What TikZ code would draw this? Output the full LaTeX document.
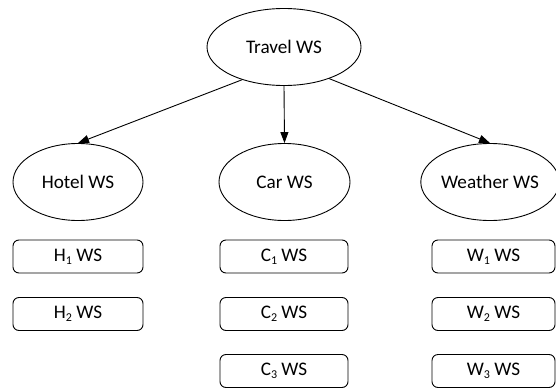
\documentclass[tikz,border=0pt]{standalone}
\usepackage{fontspec}
\setmainfont{Carlito}
\usetikzlibrary{shapes.geometric,arrows.meta}
\newcommand{\wsub}[1]{\raisebox{-0.15em}{\fontsize{12}{12}\selectfont #1}}
\begin{document}
\begin{tikzpicture}[x=1pt,y=-1pt,
  every node/.style={font=\fontsize{19.2}{21}\selectfont, text=black},
  wsell/.style={draw, ellipse, line width=0.9pt, inner sep=0pt, minimum height=77pt},
  wsbox/.style={draw, rounded corners=6pt, line width=0.9pt, inner sep=0pt, minimum height=33pt},
  conn/.style={line width=0.9pt, -{Triangle[length=11pt,width=8pt]}}]
\useasboundingbox (0,0) rectangle (556,388);
\node[wsell, minimum width=154pt] (travel) at (284,47) {Travel WS};
\node[wsell, minimum width=130pt] (hotel) at (78,182) {Hotel WS};
\node[wsell, minimum width=131pt] (car) at (284.5,182) {Car WS};
\node[wsell, minimum width=130pt] (weather) at (490,182) {Weather WS};
\node[wsbox, minimum width=130pt] (h1) at (78,256.5) {H\wsub{1} WS};
\node[wsbox, minimum width=130pt] (h2) at (78,314) {H\wsub{2} WS};
\node[wsbox, minimum width=128pt] (c1) at (284,256.5) {C\wsub{1} WS};
\node[wsbox, minimum width=128pt] (c2) at (284,314) {C\wsub{2} WS};
\node[wsbox, minimum width=128pt] (c3) at (284,371) {C\wsub{3} WS};
\node[wsbox, minimum width=123pt] (w1) at (493.5,256.5) {W\wsub{1} WS};
\node[wsbox, minimum width=123pt] (w2) at (493.5,314) {W\wsub{2} WS};
\node[wsbox, minimum width=123pt] (w3) at (493.5,371) {W\wsub{3} WS};
\draw[conn] (travel.218) -- (hotel.north);
\draw[conn] (travel.south) -- (car.north);
\draw[conn] (travel.325) -- (weather.north);
\end{tikzpicture}
\end{document}
